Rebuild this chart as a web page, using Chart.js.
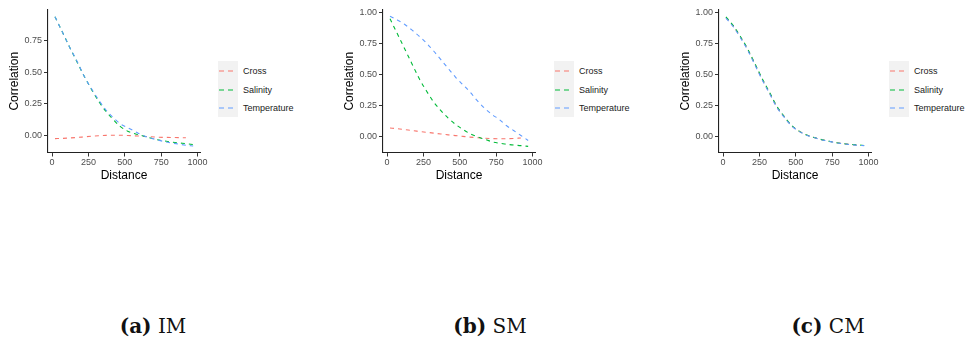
<!DOCTYPE html>
<html>
<head>
<meta charset="utf-8">
<script src="https://cdn.jsdelivr.net/npm/chart.js@4/dist/chart.umd.min.js"></script>
<style>
  body { margin: 0; background: #fff; width: 968px; height: 341px; position: relative; overflow: hidden; font-family: "Liberation Sans", Arial, sans-serif; }
  .panel { position: absolute; top: 0; width: 210px; height: 185px; }
  .legend { position: absolute; top: 61px; height: 56px; }
  .keys { position: absolute; left: 0; top: 0; width: 20px; height: 56px; background: #f2f2f2; }
  .item { position: absolute; left: 0; height: 18px; width: 80px; }
  .item svg { position: absolute; left: 0; top: 0; }
  .item span { position: absolute; left: 25px; top: 2px; font-size: 9px; line-height: 14px; color: #1a1a1a; white-space: nowrap; }
  .caption { position: absolute; top: 314px; width: 200px; text-align: center; font-family: "DejaVu Serif", serif; font-size: 20px; line-height: 24px; color: #111; }
  .caption b { font-weight: bold; }
</style>
</head>
<body>

<canvas id="im" class="panel" width="210" height="185" style="left:0px"></canvas>
<canvas id="sm" class="panel" width="210" height="185" style="left:335px"></canvas>
<canvas id="cm" class="panel" width="210" height="185" style="left:671px"></canvas>

<div class="legend" id="leg-im" style="left:218px"></div>
<div class="legend" id="leg-sm" style="left:554px"></div>
<div class="legend" id="leg-cm" style="left:889px"></div>

<div class="caption" style="left:53px"><b>(a)</b> IM</div>
<div class="caption" style="left:390px"><b>(b)</b> SM</div>
<div class="caption" style="left:728px"><b>(c)</b> CM</div>

<script>
// distance bins (x)
var distance = [20, 70, 120, 170, 220, 270, 320, 370, 420, 470, 520, 570, 620, 670, 720, 770, 820, 870, 920, 970];

var seriesNames = ['Cross', 'Salinity', 'Temperature'];
var seriesColors = ['#F8766D', '#00BA38', '#619CFF'];

// (a) IM
var imCross = [-0.027, -0.025, -0.022, -0.018, -0.013, -0.008, -0.004, -0.001, 0.0, 0.0, -0.002, -0.005, -0.008, -0.012, -0.015, -0.017, -0.018, -0.019, -0.02, null];
var imSalinity = [0.94, 0.82, 0.70, 0.585, 0.47, 0.365, 0.27, 0.19, 0.125, 0.068, 0.032, 0.012, -0.004, -0.02, -0.035, -0.045, -0.054, -0.061, -0.067, -0.074];
var imTemperature = [0.94, 0.82, 0.70, 0.59, 0.47, 0.37, 0.28, 0.20, 0.14, 0.09, 0.06, 0.03, 0.0, -0.02, -0.036, -0.05, -0.061, -0.071, -0.079, -0.086];

// (b) SM
var smCross = [0.07, 0.065, 0.058, 0.05, 0.043, 0.036, 0.029, 0.022, 0.015, 0.009, 0.003, -0.003, -0.008, -0.012, -0.015, -0.016, -0.016, -0.014, -0.01, null];
var smSalinity = [0.95, 0.83, 0.71, 0.59, 0.47, 0.37, 0.28, 0.21, 0.15, 0.10, 0.06, 0.025, 0.0, -0.02, -0.04, -0.052, -0.06, -0.067, -0.072, -0.078];
var smTemperature = [0.97, 0.94, 0.905, 0.86, 0.81, 0.755, 0.69, 0.62, 0.55, 0.48, 0.42, 0.36, 0.29, 0.23, 0.18, 0.14, 0.09, 0.05, 0.01, -0.03];

// (c) CM
var cmCross = [0.96, 0.89, 0.80, 0.70, 0.58, 0.46, 0.35, 0.24, 0.16, 0.09, 0.045, 0.015, -0.005, -0.022, -0.035, -0.047, -0.056, -0.063, -0.068, null];
var cmSalinity = [0.965, 0.895, 0.805, 0.705, 0.585, 0.465, 0.355, 0.245, 0.163, 0.092, 0.046, 0.015, -0.005, -0.022, -0.035, -0.047, -0.056, -0.062, -0.067, -0.071];
var cmTemperature = [0.955, 0.885, 0.795, 0.695, 0.575, 0.455, 0.345, 0.235, 0.157, 0.088, 0.044, 0.014, -0.006, -0.023, -0.036, -0.048, -0.057, -0.064, -0.069, -0.073];

var xTicks = [0, 250, 500, 750, 1000];
var yTicks = [0, 0.25, 0.5, 0.75, 1];

function toPoints(vals) {
    return vals.map(function (v, i) { return { x: distance[i], y: v }; });
}

function drawPanel(id, cross, sal, temp, yMin, yMax) {
    var all = [cross, sal, temp];
    var datasets = all.map(function (vals, i) {
        return {
            label: seriesNames[i],
            data: toPoints(vals),
            borderColor: seriesColors[i],
            borderWidth: 1.1,
            borderDash: [4, 4],
            pointRadius: 0,
            fill: false,
            cubicInterpolationMode: 'monotone',
            order: 2 - i
        };
    });

    new Chart(document.getElementById(id), {
        type: 'line',
        data: { datasets: datasets },
        options: {
            responsive: false,
            animation: false,
            devicePixelRatio: 1,
            layout: { padding: { top: 10, right: 10, left: 0, bottom: 0 } },
            plugins: { legend: { display: false }, tooltip: { enabled: false } },
            scales: {
                x: {
                    type: 'linear',
                    min: -28,
                    max: 1017,
                    grid: { drawOnChartArea: false, drawTicks: true, tickLength: 4, color: '#333' },
                    border: { color: '#222', width: 1.1 },
                    ticks: {
                        includeBounds: false,
                        color: '#4d4d4d',
                        font: { size: 9, family: 'Liberation Sans' },
                        padding: 1,
                        maxRotation: 0,
                        callback: function (v) { return v; }
                    },
                    afterBuildTicks: function (s) { s.ticks = xTicks.map(function (v) { return { value: v }; }); },
                    afterFit: function (s) { s.height = 32.5; },
                    title: { display: true, text: 'Distance', color: '#000', font: { size: 12, family: 'Liberation Sans' }, padding: { top: 0, bottom: 2 } }
                },
                y: {
                    min: yMin,
                    max: yMax,
                    grid: { drawOnChartArea: false, drawTicks: true, tickLength: 4, color: '#333' },
                    border: { color: '#222', width: 1.1 },
                    ticks: {
                        includeBounds: false,
                        color: '#4d4d4d',
                        font: { size: 9, family: 'Liberation Sans' },
                        padding: 2,
                        callback: function (v) { return Number(v).toFixed(2); }
                    },
                    afterBuildTicks: function (s) {
                        s.ticks = yTicks.filter(function (v) { return v >= yMin && v <= yMax; })
                                        .map(function (v) { return { value: v }; });
                    },
                    afterFit: function (s) { s.width = 48; },
                    title: { display: true, text: 'Correlation', color: '#000', font: { size: 12, family: 'Liberation Sans' }, padding: { top: 7, bottom: 0 } }
                }
            }
        }
    });
}

function drawLegend(id) {
    var el = document.getElementById(id);
    var html = '<div class="keys"></div>';
    var tops = [1, 19.5, 38];
    seriesNames.forEach(function (name, i) {
        html += '<div class="item" style="top:' + tops[i] + 'px">' +
            '<svg width="20" height="18"><line x1="1" y1="9" x2="18" y2="9" stroke="' + seriesColors[i] +
            '" stroke-width="1.2" stroke-dasharray="5 4"/></svg>' +
            '<span>' + name + '</span></div>';
    });
    el.innerHTML = html;
}

drawPanel('im', imCross, imSalinity, imTemperature, -0.137, 0.993);
drawPanel('sm', smCross, smSalinity, smTemperature, -0.127, 1.02);
drawPanel('cm', cmCross, cmSalinity, cmTemperature, -0.128, 1.02);

drawLegend('leg-im');
drawLegend('leg-sm');
drawLegend('leg-cm');
</script>
</body>
</html>
